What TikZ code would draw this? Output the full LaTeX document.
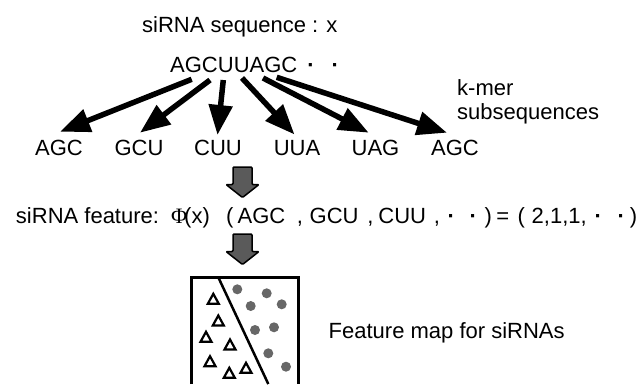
\documentclass[tikz,border=0pt]{standalone}
\usepackage{fontspec}
\setmainfont{Liberation Sans}
\newfontfamily\phifont{Liberation Serif}
\usetikzlibrary{arrows.meta}
\definecolor{arrowgray}{HTML}{5A5A5A}
\definecolor{dotgray}{HTML}{676767}
\newcommand\lineat[2]{\rlap{\kern#1pt\relax #2}}
\newcommand\mdot{\textbf{·}}
\tikzset{
  lbl/.style={inner sep=0pt, anchor=base west},
  kmerlbl/.style={inner sep=0pt, anchor=base},
  karrow/.style={line width=5.5pt, -{Triangle[length=30pt,width=23pt]}},
  garrow/.style={fill=arrowgray, draw=black, line width=1.5pt, rounded corners=1pt, line join=round},
  grayarrow/.pic={\draw[garrow] (-9.5,0) -- (9.5,0) -- (9.5,17.5) -- (16.5,17.5) -- (0,30.5) -- (-16.5,17.5) -- (-9.5,17.5) -- cycle;},
  mapframe/.style={line width=3pt},
  tri/.style={draw=black, line width=2.2pt, fill=white, line join=miter},
  dotc/.style={fill=dotgray}
}
\begin{document}
\begin{tikzpicture}[x=1pt,y=-1pt,font=\fontsize{22}{26}\selectfont]
\useasboundingbox (0,0) rectangle (637,384);

% titles
\node[lbl] (title) at (142,32.3) {siRNA sequence : x};
\node[lbl] (seq) at (170,72.7) {AGCUUAGC\hspace{10pt}\mdot\hspace{17pt}\mdot};
\node[lbl] (kmerA) at (457,95) {k-mer};
\node[lbl] (kmerB) at (457,119.3) {subsequences};

% k-mer labels
\node[kmerlbl] (m1) at (59,155) {AGC};
\node[kmerlbl] (m2) at (139,155) {GCU};
\node[kmerlbl] (m3) at (218,155) {CUU};
\node[kmerlbl] (m4) at (297,155) {UUA};
\node[kmerlbl] (m5) at (375.5,155) {UAG};
\node[kmerlbl] (m6) at (455,155) {AGC};

% arrow ends
\coordinate (s1) at (191.7,79.3);  \coordinate (t1) at (60,131.7);
\coordinate (s2) at (210,80);      \coordinate (t2) at (140,132.7);
\coordinate (s3) at (223.3,80);    \coordinate (t3) at (217.5,135);
\coordinate (s4) at (242,78);      \coordinate (t4) at (294.5,134.5);
\coordinate (s5) at (263,78);      \coordinate (t5) at (368.7,132.7);
\coordinate (s6) at (276.7,77.3);  \coordinate (t6) at (447,132.7);
\foreach \i in {1,...,6} \draw[karrow] (s\i) -- (t\i);

% feature line
\node[lbl] (feat) at (0,223.3) {\lineat{15.3}{siRNA feature:}\lineat{170.5}{\phifont Φ}\lineat{183.5}{(x)}\lineat{225.5}{(}\lineat{237}{AGC}\lineat{296.3}{,}\lineat{309}{GCU}\lineat{366.7}{,}\lineat{377.7}{CUU}\lineat{433.3}{,}\lineat{447}{\mdot}\lineat{469}{\mdot}\lineat{484}{)}\lineat{495.7}{=}\lineat{517}{(}\lineat{531}{2,1,1,}\lineat{594}{\mdot}\lineat{617}{\mdot}\lineat{629.3}{)}};

% gray block arrows
\pic at (242.5,167) {grayarrow};
\pic at (242.5,234) {grayarrow};

% feature map
\draw[mapframe] (191.7,384) -- (191.7,277.3) -- (298.3,277.3) -- (298.3,384);
\draw[line width=2.5pt] (218.3,277.3) -- (268.3,384);
\foreach \x/\y in {213.3/299.3, 218.3/321, 206/337.3, 230/345, 210/361.7, 229.3/373.3, 246/368.3}
  \draw[tri] (\x,\y-5.5) -- ++(5.5,10) -- ++(-11,0) -- cycle;
\foreach \x/\y in {237.3/289.3, 266.7/293.3, 250.7/306, 281.7/304.3, 255/330, 274/327.3, 268.3/353.3, 286/366.7}
  \fill[dotc] (\x,\y) circle[radius=5pt];
\node[lbl] (maplbl) at (328.5,338.3) {Feature map for siRNAs};
\end{tikzpicture}
\end{document}
